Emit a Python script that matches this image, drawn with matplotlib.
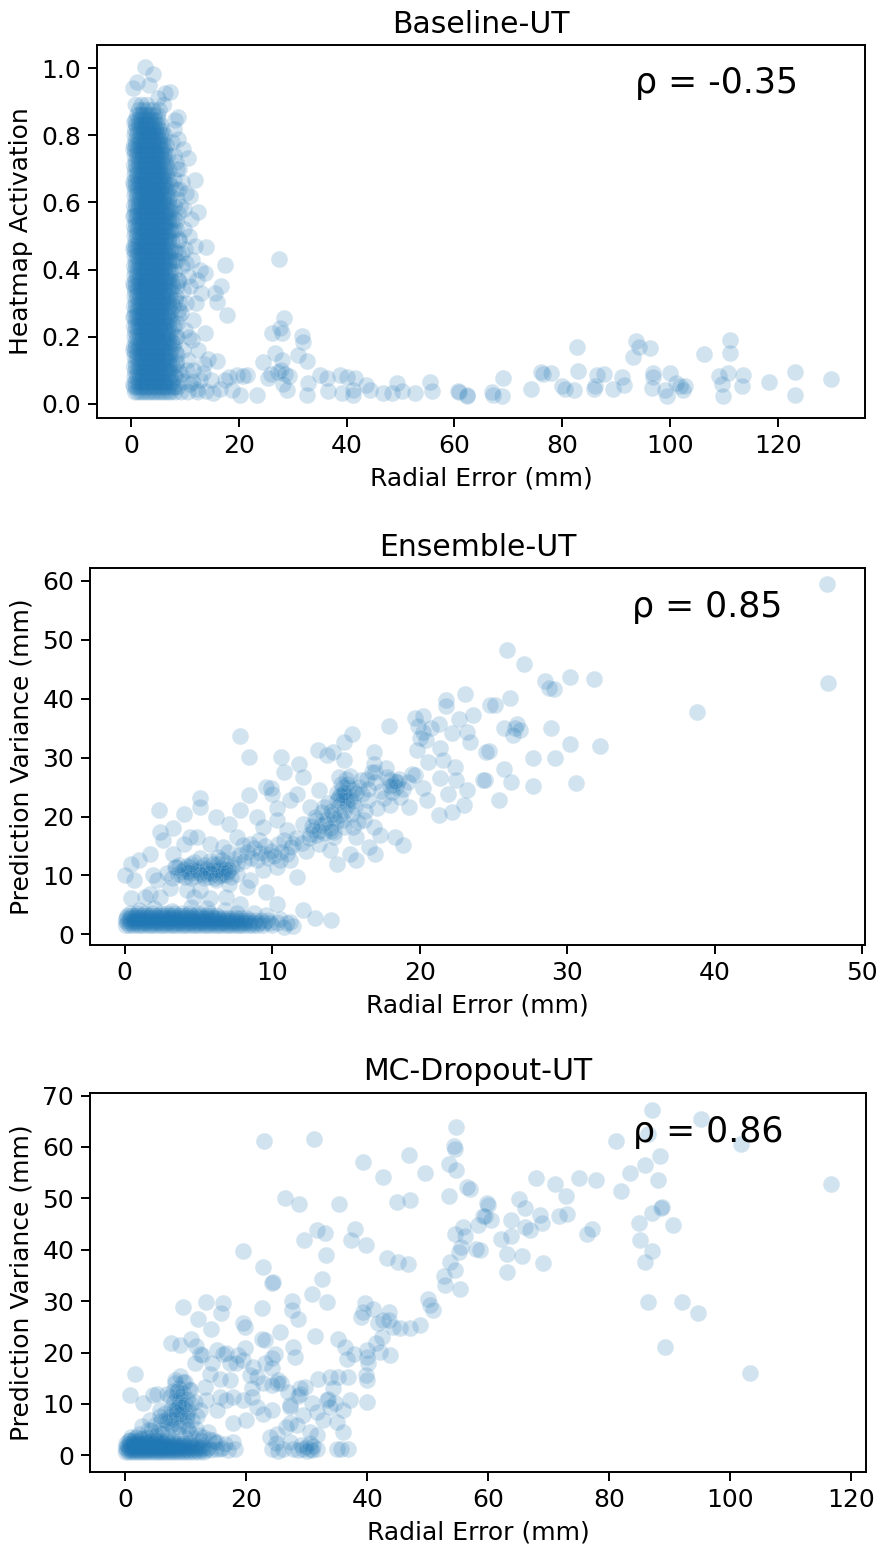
import matplotlib
matplotlib.use("Agg")
import matplotlib.pyplot as plt
from matplotlib.ticker import FormatStrFormatter

# ======================= DATA =======================
xlabel_text = "Radial Error (mm)"

# ---------- Baseline-UT ----------
baseline_title = "Baseline-UT"
baseline_ylabel = "Heatmap Activation"
baseline_rho = "ρ = -0.35"
# dense core, read row by row: (activation, radial errors on that row)
baseline_core_rows = [
    (0.035, "0.8 1.3 1.9 2.4 3.0 3.5 4.1 4.6 5.2 5.7 6.3 6.9 7.4 8.2 9.3 10.6 12.4"),
    (0.050, "0.6 1.0 1.6 2.1 2.7 3.2 3.8 4.3 4.9 5.4 6.0 6.5 7.1 7.8 8.7"),
    (0.065, "0.9 1.5 2.0 2.6 3.1 3.7 4.2 4.8 5.3 5.9 6.4 7.0 7.6 9.8 11.5"),
    (0.080, "0.7 1.2 1.8 2.3 2.9 3.4 3.9 4.5 5.0 5.6 6.1 6.7 7.2 8.1"),
    (0.095, "0.8 1.3 1.9 2.4 3.0 3.5 4.1 4.6 5.2 5.7 6.3 6.9 7.4 8.9"),
    (0.110, "0.6 1.0 1.6 2.1 2.7 3.2 3.8 4.3 4.9 5.4 6.0 6.5 7.1 7.8"),
    (0.125, "0.9 1.5 2.0 2.6 3.1 3.7 4.2 4.8 5.3 5.9 6.4 7.0 7.6 8.5"),
    (0.140, "0.7 1.2 1.8 2.3 2.9 3.4 3.9 4.5 5.0 5.6 6.1 6.7 7.2"),
    (0.155, "0.8 1.3 1.9 2.4 3.0 3.5 4.1 4.6 5.2 5.7 6.3 6.9 7.4 8.3"),
    (0.170, "0.6 1.0 1.6 2.1 2.7 3.2 3.8 4.3 4.9 5.4 6.0 6.5 7.1 7.8"),
    (0.185, "0.9 1.5 2.0 2.6 3.1 3.7 4.2 4.8 5.3 5.9 6.4 7.0 7.6"),
    (0.200, "0.7 1.2 1.8 2.3 2.9 3.4 3.9 4.5 5.0 5.6 6.1 6.7 7.2 8.6"),
    (0.215, "0.8 1.3 1.9 2.4 3.0 3.5 4.1 4.6 5.2 5.7 6.3 6.9 7.4"),
    (0.230, "0.6 1.0 1.6 2.1 2.7 3.2 3.8 4.3 4.9 5.4 6.0 6.5 7.1 8.0"),
    (0.245, "0.9 1.5 2.0 2.6 3.1 3.7 4.2 4.8 5.3 5.9 6.4 7.0 7.6"),
    (0.260, "0.7 1.2 1.8 2.3 2.9 3.4 3.9 4.5 5.0 5.6 6.1 6.7 7.2 8.8"),
    (0.275, "0.8 1.3 1.9 2.4 3.0 3.5 4.1 4.6 5.2 5.7 6.3 6.9 7.4"),
    (0.290, "0.6 1.0 1.6 2.1 2.7 3.2 3.8 4.3 4.9 5.4 6.0 6.5 7.1 7.9"),
    (0.305, "0.9 1.5 2.0 2.6 3.1 3.7 4.2 4.8 5.3 5.9 6.4 7.0 7.6"),
    (0.320, "0.7 1.2 1.8 2.3 2.9 3.4 3.9 4.5 5.0 5.6 6.1 6.7 7.2 8.4"),
    (0.335, "0.8 1.3 1.9 2.4 3.0 3.5 4.1 4.6 5.2 5.7 6.3 6.9 7.4"),
    (0.350, "0.6 1.0 1.6 2.1 2.7 3.2 3.8 4.3 4.9 5.4 6.0 6.5 7.1 7.8"),
    (0.365, "0.9 1.5 2.0 2.6 3.1 3.7 4.2 4.8 5.3 5.9 6.4 7.0 7.6 8.9"),
    (0.380, "0.7 1.2 1.8 2.3 2.9 3.4 3.9 4.5 5.0 5.6 6.1 6.7 7.2"),
    (0.395, "0.8 1.3 1.9 2.4 3.0 3.5 4.1 4.6 5.2 5.7 6.3 6.9 7.4 8.1"),
    (0.410, "0.6 1.0 1.6 2.1 2.7 3.2 3.8 4.3 4.9 5.4 6.0 6.5 7.1"),
    (0.425, "0.9 1.5 2.0 2.6 3.1 3.7 4.2 4.8 5.3 5.9 6.4 7.0 7.6 8.6"),
    (0.440, "0.7 1.2 1.8 2.3 2.9 3.4 3.9 4.5 5.0 5.6 6.1 6.7 7.2"),
    (0.455, "0.8 1.3 1.9 2.4 3.0 3.5 4.1 4.6 5.2 5.7 6.3 6.9 7.4 8.2"),
    (0.470, "0.6 1.0 1.6 2.1 2.7 3.2 3.8 4.3 4.9 5.4 6.0 6.5 7.1"),
    (0.485, "0.9 1.5 2.0 2.6 3.1 3.7 4.2 4.8 5.3 5.9 6.4 7.0 7.6 9.0"),
    (0.500, "0.7 1.2 1.8 2.3 2.9 3.4 3.9 4.5 5.0 5.6 6.1 6.7 7.2"),
    (0.515, "0.8 1.3 1.9 2.4 3.0 3.5 4.1 4.6 5.2 5.7 6.3 6.9 7.4 8.0"),
    (0.530, "0.6 1.0 1.6 2.1 2.7 3.2 3.8 4.3 4.9 5.4 6.0 6.5 7.1"),
    (0.545, "0.9 1.5 2.0 2.6 3.1 3.7 4.2 4.8 5.3 5.9 6.4 7.0 7.6 8.5"),
    (0.560, "0.7 1.2 1.8 2.3 2.9 3.4 3.9 4.5 5.0 5.6 6.1 6.7 7.2"),
    (0.575, "0.8 1.3 1.9 2.4 3.0 3.5 4.1 4.6 5.2 5.7 6.3 6.9 7.4"),
    (0.590, "0.6 1.0 1.6 2.1 2.7 3.2 3.8 4.3 4.9 5.4 6.0 6.5 7.1 8.1"),
    (0.605, "0.9 1.5 2.0 2.6 3.1 3.7 4.2 4.8 5.3 5.9 6.4 7.0"),
    (0.620, "0.7 1.2 1.8 2.3 2.9 3.4 3.9 4.5 5.0 5.6 6.1 6.7 7.3"),
    (0.635, "0.8 1.3 1.9 2.4 3.0 3.5 4.1 4.6 5.2 5.7 6.3 6.9"),
    (0.650, "0.6 1.0 1.6 2.1 2.7 3.2 3.8 4.3 4.9 5.4 6.0 6.5 7.4"),
    (0.665, "0.9 1.5 2.0 2.6 3.1 3.7 4.2 4.8 5.3 5.9 6.4 7.0"),
    (0.680, "0.7 1.2 1.8 2.3 2.9 3.4 3.9 4.5 5.0 5.6 6.1 6.7"),
    (0.695, "0.8 1.3 1.9 2.4 3.0 3.5 4.1 4.6 5.2 5.7 6.3 7.1"),
    (0.710, "0.6 1.0 1.6 2.1 2.7 3.2 3.8 4.3 4.9 5.4 6.0 6.6"),
    (0.725, "0.9 1.5 2.0 2.6 3.1 3.7 4.2 4.8 5.3 5.9 6.4"),
    (0.740, "0.7 1.2 1.8 2.3 2.9 3.4 3.9 4.5 5.0 5.6 6.2 6.9"),
    (0.755, "0.8 1.3 1.9 2.4 3.0 3.5 4.1 4.6 5.2 5.7 6.3"),
    (0.770, "0.6 1.0 1.6 2.1 2.7 3.2 3.8 4.3 4.9 5.4 6.0 6.6"),
    (0.785, "0.9 1.5 2.0 2.6 3.1 3.7 4.2 4.8 5.3 5.9"),
    (0.800, "0.7 1.2 1.8 2.3 2.9 3.4 3.9 4.5 5.0 5.6 6.2"),
    (0.815, "0.8 1.3 1.9 2.4 3.0 3.5 4.1 4.6 5.2 5.8"),
    (0.830, "1.0 1.6 2.1 2.7 3.2 3.8 4.3 4.9 5.5"),
    (0.845, "0.9 1.5 2.0 2.6 3.1 3.7 4.4 5.1"),
    (0.860, "1.2 1.8 2.3 2.9 3.6 4.3 5.0"),
    (0.875, "1.5 2.4 3.2 4.1 5.3"),
    (0.890, "0.9 2.0 3.0 6.1"),
]
baseline_points = [
    # right and left fringe of the dense core
    (8.0, 0.05), (8.4, 0.12), (7.9, 0.18), (8.6, 0.24), (8.1, 0.31), (8.8, 0.37),
    (8.2, 0.43), (8.9, 0.49), (8.0, 0.55), (8.5, 0.61), (7.9, 0.67), (8.3, 0.72),
    (7.6, 0.78), (8.0, 0.82), (9.3, 0.09), (9.6, 0.16), (9.2, 0.27), (9.7, 0.34),
    (9.4, 0.41), (9.9, 0.52), (9.1, 0.59), (9.5, 0.66), (8.7, 0.79), (10.3, 0.30),
    (10.6, 0.38), (10.1, 0.46), (10.9, 0.62), (10.4, 0.10), (11.4, 0.19), (12.9, 0.07),
    (13.6, 0.12), (8.3, 0.08), (8.6, 0.15), (8.4, 0.20), (8.9, 0.28), (8.5, 0.35),
    (8.7, 0.45), (8.3, 0.52), (8.8, 0.57), (8.4, 0.64), (8.6, 0.70), (7.9, 0.74),
    (0.3, 0.06), (0.4, 0.16), (0.3, 0.26), (0.4, 0.36), (0.3, 0.46), (0.4, 0.56),
    (0.3, 0.66), (0.4, 0.76), (0.5, 0.84),
    # sparse points
    (2.6, 1.004), (4.1, 0.984), (1.1, 0.96), (0.4, 0.94), (3.4, 0.95), (7.2, 0.93),
    (6.3, 0.925), (5.0, 0.91), (8.8, 0.855), (8.2, 0.845), (10.6, 0.731), (11.9, 0.667),
    (10.3, 0.627), (12.5, 0.572), (11.3, 0.429), (12.2, 0.369), (9.6, 0.76), (9.0, 0.70),
    (10.8, 0.50), (11.8, 0.47), (12.8, 0.40), (13.0, 0.33), (9.8, 0.58), (8.9, 0.64),
    (9.4, 0.45), (9.1, 0.30), (10.0, 0.22), (11.0, 0.06), (12.2, 0.045), (14.8, 0.07),
    (16.5, 0.045), (18.8, 0.04), (10.5, 0.13), (11.6, 0.10), (12.5, 0.16), (10.8, 0.20),
    (11.5, 0.25), (12.0, 0.30), (11.0, 0.35), (10.2, 0.42), (11.2, 0.55),
    (27.5, 0.431), (13.9, 0.466), (17.4, 0.414), (16.7, 0.351), (15.6, 0.329),
    (15.9, 0.304), (17.8, 0.265), (13.7, 0.212), (13.7, 0.389), (28.4, 0.257),
    (26.1, 0.212), (28.1, 0.210), (27.6, 0.225), (31.7, 0.202), (32.0, 0.185),
    (26.8, 0.151), (28.0, 0.131), (24.5, 0.126), (31.0, 0.146), (32.6, 0.129),
    (14.3, 0.133), (15.9, 0.129), (27.2, 0.095), (28.5, 0.088), (29.3, 0.083),
    (26.0, 0.090), (27.8, 0.100), (25.4, 0.078), (28.9, 0.042), (28.2, 0.060),
    (20.2, 0.027), (23.3, 0.027), (18.1, 0.081), (17.5, 0.070), (19.6, 0.085),
    (20.8, 0.084), (21.5, 0.086), (15.3, 0.032), (13.9, 0.038), (13.4, 0.091),
    (35.1, 0.086), (36.3, 0.076), (32.9, 0.062), (32.6, 0.027), (36.6, 0.037),
    (38.8, 0.086), (40.0, 0.081), (41.6, 0.076), (43.7, 0.057), (39.1, 0.032),
    (41.2, 0.027), (41.2, 0.042), (44.3, 0.042), (46.8, 0.032), (48.4, 0.032),
    (49.3, 0.062), (50.2, 0.037), (52.7, 0.032), (55.5, 0.066), (55.8, 0.037),
    (60.7, 0.037), (62.3, 0.027),
    (60.9, 0.035), (62.4, 0.025), (67.0, 0.036), (67.2, 0.026), (68.8, 0.025),
    (69.1, 0.077), (74.2, 0.044), (76.0, 0.096), (76.5, 0.089), (77.9, 0.091),
    (82.7, 0.168), (83.0, 0.098), (79.9, 0.054), (80.5, 0.045), (82.2, 0.042),
    (85.9, 0.044), (86.1, 0.054), (86.4, 0.087), (87.8, 0.090), (89.5, 0.045),
    (91.2, 0.080), (91.5, 0.055), (93.1, 0.140), (93.7, 0.188), (94.3, 0.168),
    (96.3, 0.167), (96.6, 0.047), (96.8, 0.091), (96.9, 0.079), (99.1, 0.042),
    (99.4, 0.024), (100.0, 0.091), (101.2, 0.063), (101.9, 0.054), (102.4, 0.040),
    (102.8, 0.054), (106.3, 0.148), (109.1, 0.083), (109.6, 0.058), (109.8, 0.025),
    (110.7, 0.093), (111.1, 0.190), (111.1, 0.151), (113.6, 0.085), (113.3, 0.054),
    (118.4, 0.065), (123.2, 0.094), (123.2, 0.027), (129.9, 0.074),
]

# ---------- Ensemble-UT ----------
ensemble_title = "Ensemble-UT"
ensemble_ylabel = "Prediction Variance (mm)"
ensemble_rho = "ρ = 0.85"
ensemble_band_rows = [
    (1.5, "0.1 0.35 0.6 0.9 1.1 1.35 1.65 1.85 2.1 2.4 2.6 2.85 3.15 3.35 3.6 3.9 4.1 "
          "4.35 4.65 4.85 5.1 5.4 5.6 5.85 6.15 6.35 6.6 6.9 7.1 7.35 7.65 7.85 8.1 "
          "8.45 8.7 9.0 9.4"),
    (1.9, "0.2 0.45 0.7 0.95 1.25 1.45 1.7 2.0 2.2 2.45 2.75 2.95 3.2 3.5 3.7 3.95 "
          "4.25 4.45 4.7 5.0 5.2 5.45 5.75 5.95 6.2 6.5 6.7 6.95 7.25 7.45 7.7 8.0 "
          "8.2 8.5 8.8 9.1 9.5 9.9 10.4"),
    (2.3, "0.1 0.35 0.65 0.85 1.1 1.4 1.6 1.85 2.15 2.35 2.6 2.9 3.1 3.35 3.65 3.85 "
          "4.1 4.4 4.6 4.85 5.15 5.35 5.6 5.9 6.1 6.35 6.65 6.85 7.1 7.4 7.6 7.9 "
          "8.2 8.5 8.9 9.3 9.7"),
    (2.7, "0.15 0.4 0.7 0.9 1.15 1.45 1.65 1.9 2.2 2.4 2.65 2.95 3.15 3.4 3.7 3.9 "
          "4.15 4.45 4.65 4.9 5.2 5.4 5.65 5.95 6.15 6.4 6.7 7.0 7.3 7.6 7.9 8.3"),
    (3.1, "0.2 0.5 0.75 1.0 1.3 1.55 1.8 2.1 2.35 2.6 2.9 3.15 3.4 3.7 3.95 4.25 "
          "4.55 4.85 5.2 5.55 5.9 6.3"),
    (3.5, "0.4 0.9 1.4 1.9 2.5 2.9 3.4 3.9 4.4 5.0 5.8"),
]
ensemble_points = [
    (47.6, 59.4), (47.7, 42.7), (38.8, 37.8), (25.9, 48.3), (27.1, 45.9), (28.5, 43.1),
    (28.8, 41.9), (29.1, 41.6), (30.2, 43.7), (31.8, 43.3), (26.1, 40.1), (25.1, 38.9),
    (26.6, 35.8), (26.5, 35.0), (26.8, 34.7), (26.3, 33.8), (25.7, 35.0), (28.9, 35.1),
    (24.7, 31.2), (27.7, 30.0), (29.2, 29.9), (30.2, 32.3), (32.2, 31.9), (25.7, 28.0),
    (24.4, 26.2), (26.2, 25.9), (27.7, 25.2), (30.6, 25.7), (25.4, 22.8),
    (23.1, 40.8), (21.8, 39.8), (21.8, 38.7), (23.6, 37.2), (22.7, 36.5), (24.8, 38.9),
    (19.7, 36.7), (20.2, 37.0), (17.9, 35.3), (21.3, 35.8), (20.8, 35.0), (19.9, 35.3),
    (20.2, 34.4), (20.0, 33.3), (20.4, 33.0), (22.2, 34.2), (23.2, 34.4), (23.4, 32.7),
    (24.5, 31.0), (19.8, 31.3), (21.4, 31.6), (21.6, 29.6), (20.6, 29.3), (22.4, 28.5),
    (21.4, 26.5), (22.5, 26.2), (23.2, 24.5), (21.9, 23.9), (23.0, 21.9), (24.3, 26.2),
    (22.2, 20.8), (21.3, 20.2), (20.5, 22.8), (19.3, 21.6), (20.2, 24.8), (19.7, 27.0),
    (18.0, 26.2), (18.5, 25.9), (18.4, 25.1), (18.1, 24.2), (17.0, 27.6), (16.9, 29.0),
    (16.9, 31.0), (14.9, 29.6), (15.4, 34.1), (14.9, 32.7), (13.1, 31.3), (13.7, 30.4),
    (14.1, 31.0), (14.5, 26.8), (14.8, 25.1), (14.5, 23.4), (15.1, 22.8), (15.5, 24.5),
    (16.0, 26.2), (16.5, 22.8), (17.1, 21.4), (16.2, 19.4), (15.5, 18.2), (15.7, 16.5),
    (16.9, 18.2), (17.3, 16.8), (16.6, 14.8), (17.0, 13.7), (18.3, 16.5), (18.9, 15.1),
    (14.8, 23.9), (14.2, 17.4), (11.8, 29.0), (12.1, 26.8), (11.7, 23.9), (11.2, 22.8),
    (12.6, 21.6), (13.2, 24.5), (13.5, 21.6), (13.0, 19.4), (12.1, 18.8), (12.6, 17.1),
    (13.2, 15.4), (13.9, 14.3), (14.4, 12.0), (15.7, 12.6), (15.3, 13.7), (10.6, 30.2),
    (10.8, 27.6), (9.9, 24.8), (9.6, 25.1), (10.0, 23.9), (8.4, 23.6), (10.3, 21.4),
    (7.8, 33.6), (8.4, 30.2), (5.1, 23.1), (5.1, 21.6), (2.3, 21.1), (4.0, 20.5),
    (2.4, 17.4), (3.3, 18.0), (4.4, 16.5), (6.2, 19.9), (7.1, 18.8), (7.8, 21.1),
    (9.0, 19.9), (9.4, 18.2), (10.3, 19.4), (11.0, 17.7), (11.4, 15.4), (10.5, 12.6),
    (9.6, 13.7), (8.5, 15.4), (7.6, 16.5), (6.7, 14.8), (5.8, 15.4), (4.9, 16.5),
    (4.0, 15.4), (3.3, 13.7), (2.6, 16.0), (1.7, 13.7), (1.0, 12.6), (0.4, 12.0),
    (0.0, 10.0), (0.6, 9.2), (1.9, 10.0), (2.2, 9.2), (3.5, 11.4), (4.4, 11.4),
    (5.6, 10.9), (6.7, 10.9), (7.6, 10.3), (8.5, 9.2), (9.4, 10.9), (10.3, 11.4),
    (11.2, 12.6), (11.7, 9.7), (8.3, 8.0), (7.1, 8.6), (6.2, 9.2), (5.1, 7.5),
    (4.2, 7.5), (3.1, 7.8), (1.7, 6.9), (0.4, 6.1), (1.4, 6.3), (2.4, 6.3),
    (4.7, 6.3), (5.8, 6.1), (6.9, 6.3), (7.8, 5.2), (9.6, 7.2), (10.3, 5.2),
    (12.1, 4.1), (12.9, 2.7), (14.0, 2.4), (11.2, 2.1), (11.4, 1.5), (11.0, 2.0),
    (10.0, 1.6), (10.5, 2.6), (2.0, 4.4), (4.5, 4.6), (6.8, 4.2), (8.8, 3.6),
    (1.0, 4.1), (3.2, 4.0), (5.6, 4.4), (7.6, 3.7), (9.6, 3.3), (10.8, 1.3),
    # dense parts of the main trend
    (3.6, 10.2), (3.9, 10.8), (4.1, 9.7), (4.4, 10.4), (4.6, 11.0), (4.8, 9.9),
    (5.0, 10.6), (5.2, 11.2), (5.3, 10.0), (5.5, 10.5), (5.7, 9.8), (5.9, 11.0),
    (6.0, 10.3), (6.2, 10.8), (6.4, 9.9), (6.5, 11.3), (6.7, 10.5), (6.9, 10.0),
    (7.1, 11.0), (3.4, 11.4), (4.2, 11.6), (5.4, 11.8), (6.3, 11.9), (7.3, 11.5),
    (3.2, 9.6), (2.9, 10.5), (4.7, 12.3), (5.8, 12.5), (6.9, 12.2), (7.6, 12.0),
    (3.8, 10.0), (4.0, 11.1), (4.3, 10.6), (4.5, 9.6), (4.9, 10.9), (5.1, 10.2),
    (5.4, 9.5), (5.6, 11.2), (5.8, 10.4), (6.1, 9.6), (6.3, 10.9), (6.6, 10.1),
    (6.8, 11.1), (7.0, 10.6), (7.2, 9.8), (3.7, 11.8), (4.5, 12.0), (5.1, 12.9),
    (6.0, 12.0), (6.6, 12.7),
    (7.4, 12.8), (7.8, 13.5), (8.1, 12.4), (8.3, 14.0), (8.6, 13.0), (8.8, 14.6),
    (9.0, 12.6), (9.2, 13.8), (9.5, 15.0), (9.7, 12.9), (9.9, 14.2), (10.1, 13.3),
    (10.4, 15.3), (10.6, 14.0), (10.8, 16.0), (11.0, 13.7), (11.3, 14.8), (11.6, 16.3),
    (8.0, 15.2), (9.1, 16.1), (7.0, 14.0), (6.3, 13.2), (12.0, 15.6), (12.3, 14.2),
    (12.5, 16.3), (12.8, 17.8), (13.0, 16.8), (13.3, 18.5), (13.5, 17.2), (13.7, 19.6),
    (13.9, 18.0), (14.1, 20.5), (14.3, 19.0), (14.5, 21.8), (14.6, 20.2), (14.8, 22.6),
    (14.9, 21.0), (15.0, 23.5), (15.1, 22.0), (15.2, 24.8), (15.3, 23.0), (14.4, 24.0),
    (14.7, 25.5), (15.0, 26.3), (13.8, 22.3), (13.4, 20.8), (12.9, 19.9), (15.4, 20.4),
    (15.6, 21.7), (14.2, 16.6), (15.8, 19.0), (16.1, 23.8), (16.3, 21.0), (15.9, 25.0),
    (13.6, 18.9), (14.0, 21.0), (14.2, 19.8), (14.4, 22.9), (14.6, 23.7), (14.9, 24.2),
    (15.1, 25.5), (15.3, 26.9), (14.8, 19.5), (14.0, 17.6), (13.2, 17.5), (12.7, 18.4),
    (14.9, 18.3), (15.5, 22.6), (15.7, 24.0),
    (16.5, 24.6), (17.0, 25.8), (17.4, 24.3), (17.8, 26.8), (18.2, 25.4), (18.6, 26.4),
    (18.9, 24.7), (19.2, 25.9), (17.6, 23.2), (18.0, 22.0), (16.8, 27.5), (17.7, 28.3),
    (19.5, 27.2), (18.7, 23.4), (16.4, 26.4), (18.3, 26.0), (18.0, 25.2),
]

# ---------- MC-Dropout-UT ----------
mc_title = "MC-Dropout-UT"
mc_ylabel = "Prediction Variance (mm)"
mc_rho = "ρ = 0.86"
mc_band_rows = [
    (0.6, "0.1 0.6 1.1 1.6 2.1 2.6 3.1 3.6 4.1 4.7 5.2 5.7 6.2 6.8 7.3 7.9 8.4 9.0 "
          "9.6 10.2 10.8 11.5 12.2 13.0"),
    (1.0, "0.3 0.8 1.3 1.8 2.3 2.9 3.4 3.9 4.4 4.9 5.5 6.0 6.5 7.1 7.6 8.2 8.7 9.3 "
          "9.9 10.5 11.2 11.9 12.6 13.4 14.2"),
    (1.4, "0.1 0.6 1.1 1.6 2.2 2.7 3.2 3.7 4.2 4.8 5.3 5.8 6.4 6.9 7.4 8.0 8.5 9.1 "
          "9.7 10.3 10.9 11.6 12.3 13.0 13.8"),
    (1.8, "0.4 0.9 1.4 1.9 2.5 3.0 3.5 4.0 4.6 5.1 5.6 6.2 6.7 7.3 7.8 8.4 9.0 9.6 "
          "10.3 11.0 11.8 12.7"),
    (2.2, "0.2 0.8 1.4 2.0 2.6 3.2 3.8 4.4 5.0 5.6 6.2 6.8 7.5 8.2 8.9 9.7 10.6"),
    (2.7, "0.6 1.5 2.4 3.3 4.2 5.1 6.0 6.9 7.9"),
]
mc_points = [
    (22.9, 61.2), (31.2, 61.5), (39.3, 57.0), (46.9, 58.5), (54.6, 63.9), (54.3, 60.1),
    (54.4, 59.7), (53.4, 56.7), (54.7, 55.6), (42.5, 54.1), (49.5, 55.0), (56.4, 52.3),
    (57.0, 51.8), (26.4, 50.0), (28.7, 48.9), (35.3, 48.9), (44.9, 49.3), (47.0, 49.7),
    (53.4, 50.5), (59.7, 49.1), (59.1, 46.5), (58.3, 44.8), (31.6, 43.9), (33.0, 43.3),
    (37.9, 44.0), (37.3, 41.9), (29.6, 41.8), (39.8, 40.9), (19.4, 39.8), (33.1, 39.0),
    (43.3, 38.3), (45.1, 37.7), (46.7, 37.2), (55.8, 44.4), (54.5, 43.1), (56.1, 42.6),
    (55.5, 40.6), (55.2, 39.6), (58.0, 40.1), (53.6, 37.7), (54.5, 36.1), (52.6, 34.8),
    (52.8, 33.1), (55.3, 32.3), (22.7, 36.7), (24.3, 33.5), (24.4, 33.7), (32.5, 34.4),
    (30.8, 31.4), (33.4, 29.9), (27.5, 30.1), (27.6, 28.3), (28.6, 26.6), (22.5, 28.6),
    (39.6, 29.6), (39.3, 27.9), (41.0, 28.5), (43.6, 27.9), (42.6, 26.3), (43.6, 26.3),
    (44.3, 25.0), (45.4, 24.7), (47.0, 24.7), (48.7, 25.3), (50.0, 30.5), (50.3, 29.2),
    (50.9, 28.3), (39.0, 27.0), (41.8, 25.7), (42.4, 23.1), (41.5, 21.8), (42.1, 20.1),
    (43.7, 19.5), (39.9, 20.5), (39.9, 19.2), (40.1, 17.9), (39.7, 15.6), (39.9, 14.6),
    (35.2, 22.7), (36.3, 21.1), (36.6, 18.8), (37.7, 19.8), (31.3, 23.2), (31.9, 14.9),
    (33.8, 15.3), (35.2, 15.3), (36.8, 15.3), (34.3, 13.0), (33.3, 10.7), (34.6, 10.1),
    (37.1, 10.7), (39.9, 10.4), (36.0, 8.8), (34.9, 6.5), (31.6, 8.4), (29.4, 7.8),
    (30.5, 4.5), (31.6, 3.9), (36.0, 4.5), (28.8, 13.0), (28.8, 12.0), (27.2, 9.4),
    (27.2, 6.2), (25.0, 4.2), (23.9, 3.6),
    (9.5, 28.9), (12.0, 26.6), (13.3, 29.9), (16.2, 29.6), (15.8, 27.7), (14.2, 24.5),
    (19.5, 25.7), (19.8, 25.0), (22.5, 22.7), (23.1, 22.4), (24.7, 19.8), (25.5, 24.0),
    (27.7, 21.1), (28.0, 19.2), (7.6, 21.8), (9.0, 21.4), (10.9, 22.7), (12.3, 19.8),
    (15.1, 20.5), (16.2, 19.8), (18.6, 19.5), (19.5, 18.5), (11.5, 17.9), (14.0, 15.9),
    (15.6, 14.9), (17.3, 14.6), (20.6, 15.6), (21.7, 15.3), (22.8, 14.0), (25.0, 14.0),
    (25.3, 14.6), (21.1, 17.2), (24.2, 16.9), (1.6, 15.9), (0.7, 11.7), (2.9, 10.1),
    (4.6, 11.7), (5.2, 12.0), (8.2, 14.0), (9.6, 14.3), (10.7, 12.7), (13.1, 13.3),
    (13.4, 10.7), (15.6, 11.4), (16.7, 10.7), (17.8, 11.4), (19.5, 10.7), (20.9, 11.4),
    (21.7, 9.4), (24.2, 8.8), (22.8, 8.1), (20.0, 6.8), (17.8, 6.2), (15.1, 8.8),
    (12.3, 8.8), (10.1, 7.8), (8.5, 8.4), (7.4, 6.8), (5.7, 8.8), (27.2, 9.7),
    (26.6, 5.5), (28.3, 5.8), (30.8, 10.1), (32.7, 6.8), (33.8, 9.4),
    (11.6, 21.3), (12.7, 19.5), (14.3, 18.0), (16.7, 20.0), (17.3, 17.9), (18.2, 17.9),
    (19.8, 20.8), (23.1, 17.9), (24.3, 18.9), (25.7, 14.0), (24.3, 13.6), (20.9, 13.0),
    (26.9, 12.3), (28.6, 11.5), (29.7, 13.3), (33.5, 11.0),
    # column and dome above the dense band
    (7.2, 7.5), (7.6, 9.0), (8.0, 10.3), (8.3, 8.2), (8.5, 11.8), (8.7, 9.6),
    (8.9, 13.1), (9.1, 10.8), (9.3, 7.9), (9.5, 12.2), (9.7, 9.1), (9.9, 14.2),
    (10.1, 11.0), (10.3, 8.6), (10.5, 12.9), (7.8, 12.6), (8.2, 14.6), (9.0, 15.4),
    (9.6, 6.6), (8.6, 6.2), (7.4, 11.3), (10.0, 5.8), (6.8, 6.4), (6.2, 5.2),
    (5.4, 4.6), (4.6, 3.8), (3.8, 4.9), (3.0, 3.4), (2.2, 4.1), (1.4, 3.2),
    (5.9, 6.7), (6.5, 8.3), (4.9, 5.9), (4.1, 6.8), (11.0, 6.9), (11.6, 5.1),
    (12.2, 4.0), (12.9, 3.5), (13.6, 4.6), (10.7, 4.3), (9.9, 3.6), (8.8, 4.2),
    (7.9, 5.4), (7.0, 4.0), (5.1, 2.9), (3.4, 2.6), (2.0, 2.8), (1.0, 3.6),
    (14.4, 2.9), (11.8, 7.6),
    (8.4, 9.0), (8.8, 10.4), (9.2, 11.6), (9.4, 9.4), (8.6, 12.6), (9.0, 8.0),
    (8.0, 8.8), (9.8, 10.0), (7.8, 7.0), (10.2, 7.2), (8.9, 5.6), (7.5, 5.9),
    (6.5, 6.9), (6.0, 4.4), (5.0, 4.0), (4.3, 5.0), (3.6, 3.6), (2.6, 3.3),
    (1.8, 3.6), (0.8, 2.9), (12.5, 3.0), (11.3, 3.4), (10.4, 5.2), (13.8, 3.2),
    (15.2, 2.6), (2.8, 5.7), (5.7, 7.6), (6.9, 11.9), (10.8, 9.9), (11.5, 10.3),
    # low-variance points at larger errors
    (15.0, 1.2), (16.0, 1.5), (17.0, 1.0), (18.1, 1.3), (15.6, 1.3), (16.5, 2.2),
    (17.8, 2.5), (14.8, 2.5), (24.2, 1.3), (26.1, 1.3), (27.7, 1.3), (29.4, 1.3),
    (30.5, 1.3), (31.6, 1.3), (24.9, 2.3), (27.2, 2.6), (30.5, 2.3), (28.5, 1.0),
    (30.0, 0.9), (25.3, 0.8), (31.0, 1.8), (29.0, 2.0), (30.9, 1.1), (29.9, 1.6),
    (34.9, 1.3), (36.8, 1.3), (35.6, 1.2),
    # large errors
    (87.1, 67.1), (95.2, 65.4), (101.7, 60.6), (81.1, 61.1), (86.3, 62.6), (116.6, 52.8),
    (88.4, 58.3), (85.9, 56.4), (83.4, 55.0), (88.1, 53.6), (81.9, 51.5), (67.9, 53.9),
    (71.0, 52.8), (75.0, 53.9), (77.7, 53.6), (72.8, 50.4), (65.1, 49.8), (66.0, 48.2),
    (60.0, 48.7), (59.4, 46.5), (60.5, 45.8), (63.8, 45.8), (63.8, 42.6), (62.0, 42.0),
    (66.0, 44.4), (66.9, 43.9), (68.6, 46.8), (68.8, 45.3), (71.7, 46.5), (73.0, 47.0),
    (63.0, 39.2), (63.0, 35.7), (65.6, 38.7), (69.1, 37.5), (76.3, 43.1), (77.1, 44.0),
    (84.9, 45.3), (87.0, 47.1), (88.6, 48.1), (88.7, 48.3), (90.5, 44.8), (85.0, 41.8),
    (87.1, 39.8), (85.9, 37.7), (86.4, 29.9), (92.0, 29.8), (94.7, 27.7), (89.2, 21.1),
    (103.3, 16.1), (58.6, 40.0),
]

# ======================= LAYOUT =======================
W, H = 877, 1544
DPI = 100
# axes boxes in pixels: (left, right, top, bottom)
boxes = [(97, 865, 45, 418), (90, 865, 568, 945), (90, 866, 1093, 1472)]
limits = [((-6.3, 136.2), (-0.042, 1.069)),
          ((-2.35, 50.2), (-1.8, 62.2)),
          ((-5.85, 122.4), (-3.25, 70.5))]
xticks = [list(range(0, 121, 20)), list(range(0, 51, 10)), list(range(0, 121, 20))]
yticks = [[0.0, 0.2, 0.4, 0.6, 0.8, 1.0], list(range(0, 61, 10)), list(range(0, 71, 10))]

panels = [
    (baseline_core_rows, baseline_points, baseline_title, baseline_ylabel, baseline_rho),
    (ensemble_band_rows, ensemble_points, ensemble_title, ensemble_ylabel, ensemble_rho),
    (mc_band_rows, mc_points, mc_title, mc_ylabel, mc_rho),
]

plt.rcParams['font.family'] = ['DejaVu Sans']
fig = plt.figure(figsize=(W / DPI, H / DPI), dpi=DPI)

for i, (rows, pts, title, ylabel, rho) in enumerate(panels):
    l, r, t, b = boxes[i]
    ax = fig.add_axes([l / W, 1 - b / H, (r - l) / W, (b - t) / H])
    core_x, core_y = [], []
    for yv, row in rows:
        vals = [float(v) for v in row.split()]
        core_x += vals
        core_y += [yv] * len(vals)
    # individually visible markers with their thin white rim
    ax.scatter([p[0] for p in pts], [p[1] for p in pts], s=145, c='#1f77b4',
               alpha=0.2, edgecolors='white', linewidths=0.4)
    # dense region: heavily overlapping markers
    ax.scatter(core_x, core_y, s=145, c='#1f77b4', alpha=0.2,
               edgecolors='none', linewidths=0)
    ax.set_xlim(*limits[i][0])
    ax.set_ylim(*limits[i][1])
    ax.set_xticks(xticks[i])
    ax.set_yticks(yticks[i])
    if i == 0:
        ax.yaxis.set_major_formatter(FormatStrFormatter('%.1f'))
    ax.tick_params(labelsize=18, length=6.4, width=1.4, pad=5)
    for sp in ax.spines.values():
        sp.set_linewidth(1.4)
    ax.set_title(title, fontsize=21.5, pad=9)
    ax.set_xlabel(xlabel_text, fontsize=18, labelpad=6)
    ax.set_ylabel(ylabel, fontsize=18, labelpad=6)
    ax.text(0.70, 0.87, rho, transform=ax.transAxes, fontsize=25)

fig.savefig("out.png", dpi=DPI)
